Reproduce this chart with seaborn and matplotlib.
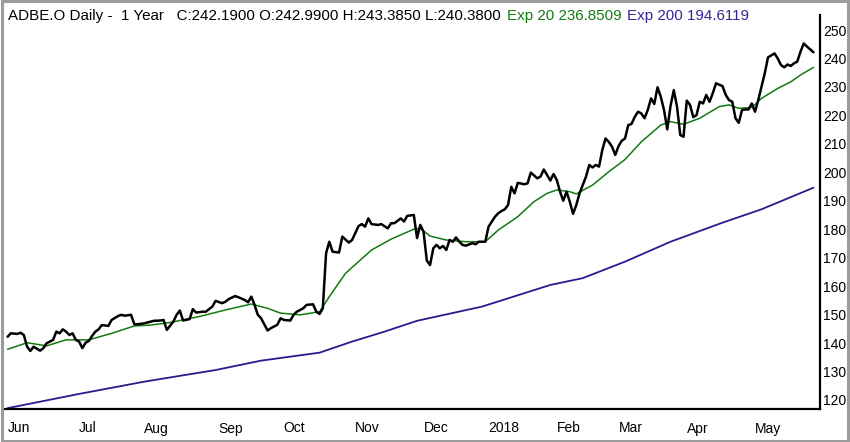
import numpy as np
import pandas as pd
import matplotlib
matplotlib.use('Agg')
import matplotlib.pyplot as plt
import seaborn as sns
from matplotlib import font_manager
from matplotlib.patches import Rectangle

# trading-session index (0 = first session of June 2017) and daily close
close_day = [0, 1, 3, 4, 5, 6, 7, 8, 10, 11, 12, 14, 15, 16, 17, 18, 19, 20, 21, 22,
             23, 24, 25, 26, 27, 28, 29, 31, 32, 34, 35, 36, 38, 39, 40, 42, 43, 44, 45, 47,
             48, 49, 51, 52, 53, 54, 56, 57, 58, 60, 61, 63, 64, 66, 67, 68, 70, 71, 73, 74,
             75, 76, 77, 78, 80, 81, 83, 84, 85, 87, 88, 89, 91, 92, 94, 95, 96, 97, 98, 99,
             100, 102, 103, 105, 106, 108, 109, 110, 111, 112, 114, 115, 117, 118, 119, 121, 122, 123, 125, 126,
             127, 128, 129, 130, 131, 132, 133, 134, 135, 136, 137, 138, 139, 140, 141, 143, 144, 145, 147, 148,
             150, 151, 152, 153, 154, 155, 156, 157, 159, 160, 161, 163, 164, 165, 166, 167, 168, 169, 170, 171,
             172, 173, 174, 175, 176, 177, 178, 179, 180, 181, 182, 183, 184, 185, 186, 187, 188, 189, 190, 191,
             192, 193, 194, 195, 196, 197, 198, 199, 200, 201, 202, 203, 204, 205, 206, 207, 208, 209, 210, 211,
             212, 213, 214, 215, 216, 217, 218, 220, 221, 222, 223, 224, 225, 226, 227, 228, 229, 230, 231, 232,
             233, 234, 236, 237, 238, 239, 240, 241, 242, 243, 244, 245, 246, 248]
close_val = [142.2, 143.4, 143.2, 143.6, 142.8, 138.7, 137.2, 138.7, 137.3, 138.2, 139.9, 141.1, 144.0, 143.4, 144.8, 144.0, 142.8, 143.4, 141.1, 140.5,
             138.2, 140.1, 140.7, 142.5, 144.0, 144.8, 146.3, 146.0, 148.1, 149.5, 149.9, 149.6, 149.9, 146.6, 146.6, 146.9, 147.2, 147.5, 147.8, 147.9,
             148.1, 144.6, 147.5, 149.9, 151.4, 147.9, 148.4, 151.9, 150.7, 151.0, 151.0, 152.8, 154.8, 154.0, 154.5, 155.4, 156.5, 156.1, 155.1, 154.3,
             156.3, 153.4, 149.9, 148.7, 144.4, 145.2, 146.4, 148.7, 148.1, 147.9, 149.9, 151.0, 152.2, 153.4, 153.6, 151.0, 150.2, 152.2, 171.5, 175.6,
             172.1, 171.8, 177.4, 175.3, 176.2, 181.1, 181.8, 180.9, 183.8, 181.8, 181.5, 181.8, 180.3, 182.1, 182.1, 183.8, 182.7, 184.7, 185.0, 176.9,
             181.5, 179.1, 169.0, 167.4, 173.3, 174.5, 173.3, 174.1, 172.7, 176.2, 175.6, 177.1, 175.6, 174.5, 174.2, 175.1, 174.7, 175.6, 175.6, 180.9,
             184.4, 185.6, 186.4, 187.0, 188.5, 194.9, 192.6, 196.3, 195.8, 196.1, 199.9, 197.9, 198.5, 201.0, 199.1, 197.1, 199.4, 197.3, 193.2, 190.0,
             193.2, 189.7, 185.4, 188.5, 192.6, 195.5, 198.5, 202.6, 201.7, 202.6, 202.0, 207.8, 211.9, 210.7, 209.0, 206.1, 209.2, 211.1, 211.9, 216.6,
             217.0, 219.5, 221.3, 220.7, 219.0, 221.9, 226.0, 224.0, 229.9, 226.6, 221.9, 215.1, 223.3, 228.9, 223.1, 213.1, 212.5, 225.2, 223.7, 219.4,
             220.1, 224.8, 224.2, 227.2, 224.8, 227.8, 231.3, 230.3, 227.2, 225.4, 224.8, 219.0, 217.4, 221.9, 222.1, 222.1, 224.2, 221.3, 225.4, 230.1,
             234.8, 240.4, 241.8, 240.0, 237.7, 236.9, 237.9, 237.4, 238.3, 238.9, 242.4, 245.3, 244.2, 242.2]

# 20-period exponential average
ema20_day = [0, 6, 12, 18, 25, 32, 39, 44, 50, 59, 67, 75, 80, 84, 90, 96, 99, 104, 112, 118,
             125, 127, 130, 135, 141, 147, 151, 157, 162, 166, 169, 173, 175, 180, 185, 190, 195, 201, 204, 208,
             213, 219, 222, 225, 229, 232, 237, 241, 244, 248]
ema20_val = [137.8, 140.1, 139.0, 141.1, 141.1, 143.4, 146.0, 146.3, 147.2, 149.3, 151.6, 153.7, 152.2, 150.5, 149.9, 151.0, 156.3, 164.5, 172.7, 176.5,
             180.0, 180.3, 177.6, 176.2, 175.6, 175.6, 179.7, 184.4, 189.7, 192.6, 193.8, 193.2, 192.4, 195.5, 200.2, 204.5, 210.7, 216.6, 217.8, 216.9,
             219.0, 223.1, 223.7, 222.5, 222.8, 226.0, 229.5, 231.8, 234.2, 236.9]

# 200-period exponential average
ema200_day = [0, 22, 42, 64, 78, 96, 106, 116, 126, 146, 167, 177, 190, 204, 220, 232, 248]
ema200_val = [117.1, 122.1, 126.4, 130.5, 133.8, 136.6, 140.5, 144.0, 147.8, 152.8, 160.4, 162.8, 168.6, 175.6, 182.3, 187.0, 194.6]

# first session of each month and its label
month_day = [0, 22, 42, 65, 85, 107, 128, 148, 169, 188, 209, 230]
month_lbl = ['Jun', 'Jul', 'Aug', 'Sep', 'Oct', 'Nov', 'Dec', '2018', 'Feb', 'Mar', 'Apr', 'May']
price_ticks = list(range(120, 251, 10))

sns.set_style('white')

names = {f.name for f in font_manager.fontManager.ttflist}
main_font = 'Liberation Sans' if 'Liberation Sans' in names else 'DejaVu Sans'
plt.rcParams['font.family'] = [main_font, 'DejaVu Sans']

fig = plt.figure(figsize=(8.5, 4.42), dpi=100)
ax = fig.add_axes([5 / 850, 33 / 442, 815 / 850, 394 / 442])

close_df = pd.DataFrame({'day': close_day, 'price': close_val})
ema20_df = pd.DataFrame({'day': ema20_day, 'price': ema20_val})
ema200_df = pd.DataFrame({'day': ema200_day, 'price': ema200_val})

sns.lineplot(data=ema200_df, x='day', y='price', ax=ax, color='#2a1a8c', linewidth=1.3, estimator=None, sort=False)
sns.lineplot(data=ema20_df, x='day', y='price', ax=ax, color='#117a11', linewidth=1.1, estimator=None, sort=False)
sns.lineplot(data=close_df, x='day', y='price', ax=ax, color='black', linewidth=1.8, estimator=None, sort=False)

ax.set_xlim(-0.8, 250)
ax.set_ylim(116.8, 255.3)
ax.set_xlabel('')
ax.set_ylabel('')

for side in ['top', 'left']:
    ax.spines[side].set_visible(False)
for side in ['right', 'bottom']:
    ax.spines[side].set_color('black')
    ax.spines[side].set_linewidth(1.6)

ax.yaxis.tick_right()
ax.set_yticks(price_ticks)
ax.set_yticklabels([str(t) for t in price_ticks], fontsize=10, color='black')
ax.tick_params(axis='y', length=0, pad=2)

ax.set_xticks(month_day)
ax.set_xticklabels(month_lbl, ha='left', fontsize=10, color='black')
ax.tick_params(axis='x', direction='out', length=6, width=1.3, color='black', pad=3)

# header line
fig.text(8 / 850, 1 - 16 / 442, 'ADBE.O Daily -  1 Year   C:242.1900 O:242.9900 H:243.3850 L:240.3800',
         fontsize=10.9, color='black', va='center')
fig.text(507 / 850, 1 - 16 / 442, 'Exp 20 236.8509', fontsize=10.9, color='#117a11', va='center')
fig.text(627 / 850, 1 - 16 / 442, 'Exp 200 194.6119', fontsize=10.9, color='#3a2296', va='center')

# outer grey frame
fig.patches.append(Rectangle((0.002, 0.003), 0.996, 0.994, transform=fig.transFigure,
                             fill=False, edgecolor='#9c9c9c', linewidth=2.2))

fig.savefig('out.png', dpi=100)
